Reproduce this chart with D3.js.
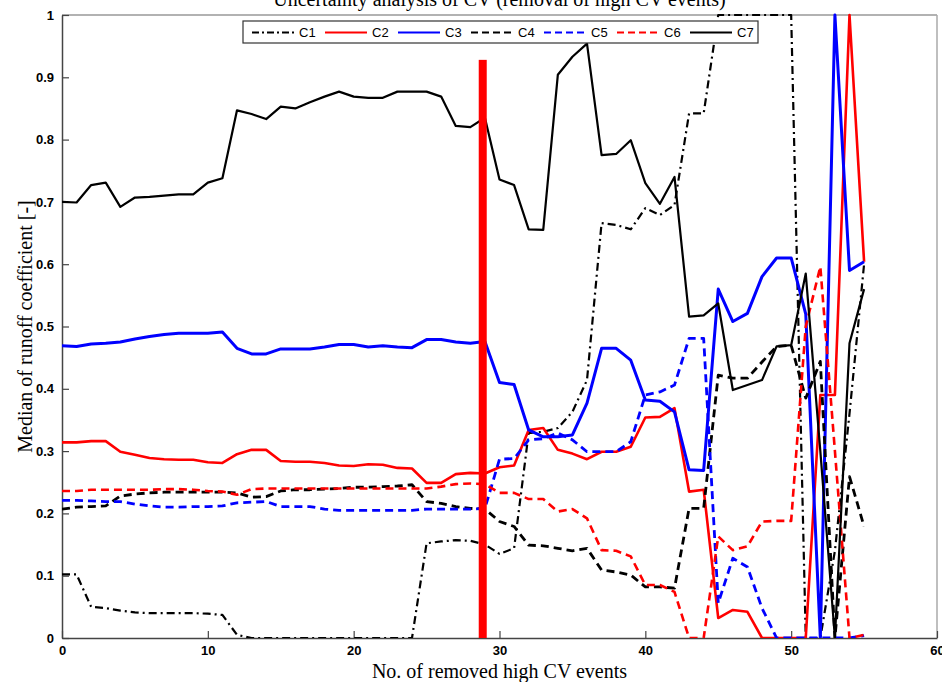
<!DOCTYPE html>
<html lang="en">

<head>
    <meta charset="UTF-8">
    <title>Uncertainty analysis of CV</title>
    <script src="https://d3js.org/d3.v7.min.js"></script>
    <style>
        body { margin: 0; background: #fff; }
        svg { display: block; }
    </style>
</head>

<body>
    <svg width="942" height="682"></svg>

    <script>
        // x = number of removed high CV events (0..55)
        const events = d3.range(0, 56);

        // median runoff coefficient per catchment
        const c1 = [0.102, 0.102, 0.050, 0.048, 0.044, 0.041, 0.040, 0.040, 0.040, 0.040,
            0.039, 0.037, 0.005, 0, 0, 0, 0, 0, 0, 0,
            0, 0, 0, 0, 0, 0.152, 0.155, 0.157, 0.156, 0.150,
            0.135, 0.144, 0.329, 0.331, 0.337, 0.363, 0.414, 0.666, 0.663, 0.656,
            0.690, 0.679, 0.695, 0.842, 0.842, 1.0, 1.0, 1.0, 1.0, 1.0,
            1.0, 0, 0, 0.14, 0.36, 0.60];
        const c2 = [0.314, 0.314, 0.316, 0.316, 0.299, 0.294, 0.289, 0.287, 0.286, 0.286,
            0.282, 0.281, 0.295, 0.302, 0.302, 0.284, 0.283, 0.283, 0.281, 0.277,
            0.276, 0.279, 0.278, 0.273, 0.272, 0.249, 0.249, 0.263, 0.265, 0.264,
            0.274, 0.277, 0.334, 0.337, 0.302, 0.296, 0.287, 0.299, 0.299, 0.307,
            0.354, 0.355, 0.369, 0.235, 0.238, 0.032, 0.045, 0.042, 0, 0,
            0, 0, 0.390, 0.390, 1.0, 0.604];
        const c3 = [0.469, 0.468, 0.472, 0.473, 0.475, 0.480, 0.484, 0.487, 0.489, 0.489,
            0.489, 0.491, 0.465, 0.456, 0.456, 0.464, 0.464, 0.464, 0.467, 0.471,
            0.471, 0.467, 0.469, 0.467, 0.466, 0.479, 0.479, 0.475, 0.473, 0.476,
            0.410, 0.407, 0.334, 0.323, 0.323, 0.326, 0.377, 0.465, 0.465, 0.446,
            0.382, 0.380, 0.363, 0.270, 0.269, 0.560, 0.508, 0.521, 0.580, 0.610,
            0.610, 0.520, 0, 1.0, 0.590, 0.604];
        const c4 = [0.207, 0.210, 0.211, 0.212, 0.228, 0.231, 0.233, 0.234, 0.234, 0.234,
            0.234, 0.234, 0.233, 0.226, 0.227, 0.236, 0.238, 0.238, 0.239, 0.240,
            0.242, 0.242, 0.243, 0.244, 0.246, 0.219, 0.216, 0.211, 0.208, 0.207,
            0.187, 0.179, 0.149, 0.148, 0.144, 0.140, 0.144, 0.109, 0.106, 0.101,
            0.082, 0.082, 0.080, 0.208, 0.208, 0.422, 0.417, 0.417, 0.443, 0.468,
            0.470, 0.385, 0.444, 0, 0.259, 0.179];
        const c5 = [0.221, 0.221, 0.220, 0.219, 0.219, 0.215, 0.212, 0.210, 0.210, 0.211,
            0.211, 0.212, 0.217, 0.218, 0.219, 0.211, 0.211, 0.211, 0.207, 0.205,
            0.205, 0.205, 0.205, 0.205, 0.205, 0.207, 0.207, 0.207, 0.207, 0.208,
            0.287, 0.288, 0.318, 0.320, 0.329, 0.318, 0.299, 0.299, 0.299, 0.315,
            0.390, 0.395, 0.406, 0.481, 0.481, 0.056, 0.128, 0.114, 0.048, 0,
            0, 0, 0, 0, 0, 0.004];
        const c6 = [0.236, 0.236, 0.238, 0.238, 0.238, 0.238, 0.238, 0.239, 0.239, 0.238,
            0.236, 0.235, 0.230, 0.239, 0.240, 0.240, 0.240, 0.240, 0.240, 0.240,
            0.240, 0.240, 0.240, 0.240, 0.240, 0.240, 0.243, 0.247, 0.248, 0.247,
            0.233, 0.233, 0.223, 0.223, 0.203, 0.207, 0.192, 0.141, 0.140, 0.131,
            0.085, 0.085, 0.074, 0, 0, 0.163, 0.141, 0.147, 0.187, 0.188,
            0.188, 0.500, 0.596, 0.300, 0, 0.005];
        const c7 = [0.700, 0.699, 0.727, 0.731, 0.692, 0.707, 0.708, 0.710, 0.712, 0.712,
            0.731, 0.738, 0.847, 0.841, 0.833, 0.853, 0.850, 0.860, 0.869, 0.877,
            0.869, 0.867, 0.867, 0.877, 0.877, 0.877, 0.869, 0.822, 0.820, 0.835,
            0.736, 0.727, 0.656, 0.655, 0.904, 0.933, 0.954, 0.775, 0.777, 0.799,
            0.730, 0.697, 0.740, 0.516, 0.518, 0.537, 0.398, 0.406, 0.414, 0.468,
            0.470, 0.585, 0.300, 0, 0.473, 0.560];

        const seriesNames = ["C1", "C2", "C3", "C4", "C5", "C6", "C7"];

        const xTicks = [0, 10, 20, 30, 40, 50, 60];
        const yTicks = [0, 0.1, 0.2, 0.3, 0.4, 0.5, 0.6, 0.7, 0.8, 0.9, 1];
        const yTickLabels = ["0", "0.1", "0.2", "0.3", "0.4", "0.5", "0.6", "0.7", "0.8", "0.9", "1"];

        // the chosen cut-off (thick red bar)
        const cutEvent = 28.85;
        const cutTop = 0.928;

        document.addEventListener('DOMContentLoaded', function () {
            const svg = d3.select("svg");
            const margin = { left: 62, right: 5, top: 15, bottom: 44 };
            const width = +svg.attr("width"),
                height = +svg.attr("height");

            const x = d3.scaleLinear().domain([0, 60]).range([margin.left, width - margin.right]);
            const y = d3.scaleLinear().domain([0, 1]).range([height - margin.bottom, margin.top]);

            // style for each series: colour, width, dash
            const styles = {
                C1: { color: "#000", w: 2.2, dash: "8,4,2,4" },
                C2: { color: "#ff0000", w: 2.6, dash: null },
                C3: { color: "#0000ff", w: 3, dash: null },
                C4: { color: "#000", w: 2.8, dash: "8,5" },
                C5: { color: "#0000ff", w: 2.8, dash: "8,5" },
                C6: { color: "#ff0000", w: 2.6, dash: "8,5" },
                C7: { color: "#000", w: 2.2, dash: null }
            };
            const allSeries = [c1, c2, c3, c4, c5, c6, c7];

            svg.append("defs").append("clipPath").attr("id", "plotclip")
                .append("rect")
                .attr("x", x(0))
                .attr("y", y(1) - 2)
                .attr("width", x(60) - x(0))
                .attr("height", y(0) - y(1) + 2);

            // title, cut off at the top like the source figure
            svg.append("text")
                .attr("x", (x(0) + x(60)) / 2)
                .attr("y", 6)
                .attr("text-anchor", "middle")
                .attr("font-family", "'Liberation Serif', 'Times New Roman', serif")
                .attr("font-size", "20px")
                .text("Uncertainty analysis of CV (removal of high CV events)");

            // top and right frame
            svg.append("line")
                .attr("x1", x(0)).attr("x2", x(60))
                .attr("y1", y(1)).attr("y2", y(1))
                .attr("stroke", "#999").attr("stroke-width", 1.5);
            svg.append("line")
                .attr("x1", x(60)).attr("x2", x(60))
                .attr("y1", y(1)).attr("y2", y(0))
                .attr("stroke", "#aaa").attr("stroke-width", 1.5);

            // axes, ticks point inward
            const xAxis = d3.axisBottom(x).tickValues(xTicks).tickFormat(d3.format("d"))
                .tickSizeInner(-7).tickSizeOuter(0).tickPadding(8);
            const yAxis = d3.axisLeft(y).tickValues(yTicks).tickFormat((d, i) => yTickLabels[i])
                .tickSizeInner(-7).tickSizeOuter(0).tickPadding(8);

            const gx = svg.append("g")
                .attr("transform", `translate(0,${y(0)})`)
                .call(xAxis);
            const gy = svg.append("g")
                .attr("transform", `translate(${x(0)},0)`)
                .call(yAxis);

            [gx, gy].forEach(g => {
                g.select(".domain").attr("stroke", "#444").attr("stroke-width", 1.5);
                g.selectAll(".tick line").attr("stroke", "#444").attr("stroke-width", 1.2);
                g.selectAll(".tick text")
                    .attr("font-family", "'Liberation Sans', Arial, sans-serif")
                    .attr("font-weight", "bold")
                    .attr("font-size", "13px")
                    .attr("fill", "#000");
            });

            // axis titles
            svg.append("text")
                .attr("x", (x(0) + x(60)) / 2)
                .attr("y", 678)
                .attr("text-anchor", "middle")
                .attr("font-family", "'Liberation Serif', 'Times New Roman', serif")
                .attr("font-size", "20px")
                .text("No. of removed high CV events");

            svg.append("text")
                .attr("transform", `translate(32,${(y(0) + y(1)) / 2}) rotate(-90)`)
                .attr("text-anchor", "middle")
                .attr("font-family", "'Liberation Serif', 'Times New Roman', serif")
                .attr("font-size", "20px")
                .text("Median of runoff coefficient [-]");

            // series lines
            const line = d3.line()
                .x((d, i) => x(events[i]))
                .y(d => y(d));

            const plot = svg.append("g").attr("clip-path", "url(#plotclip)");
            allSeries.forEach((values, k) => {
                const s = styles[seriesNames[k]];
                plot.append("path")
                    .datum(values)
                    .attr("d", line)
                    .attr("fill", "none")
                    .attr("stroke", s.color)
                    .attr("stroke-width", s.w)
                    .attr("stroke-linejoin", "round")
                    .attr("stroke-dasharray", s.dash);
            });

            // thick red marker
            svg.append("rect")
                .attr("x", x(cutEvent) - 4)
                .attr("y", y(cutTop))
                .attr("width", 8)
                .attr("height", y(0) - y(cutTop))
                .attr("fill", "#ff0000");

            // legend
            const legend = svg.append("g").attr("transform", "translate(243,21)");
            legend.append("rect")
                .attr("width", 515)
                .attr("height", 22)
                .attr("fill", "#fff")
                .attr("stroke", "#333")
                .attr("stroke-width", 1.2);

            seriesNames.forEach((name, i) => {
                const s = styles[name];
                const x0 = 9 + i * 73;
                legend.append("line")
                    .attr("x1", x0).attr("x2", x0 + 42)
                    .attr("y1", 11.5).attr("y2", 11.5)
                    .attr("stroke", s.color)
                    .attr("stroke-width", Math.min(s.w, 2.2))
                    .attr("stroke-dasharray", s.dash ? (s.dash === "8,5" ? "7,4" : "7,3,2,3") : null);
                legend.append("text")
                    .attr("x", x0 + 47)
                    .attr("y", 11.5)
                    .attr("dy", "0.35em")
                    .attr("font-family", "'Liberation Sans', Arial, sans-serif")
                    .attr("font-size", "13px")
                    .text(name);
            });
        });
    </script>
</body>

</html>
